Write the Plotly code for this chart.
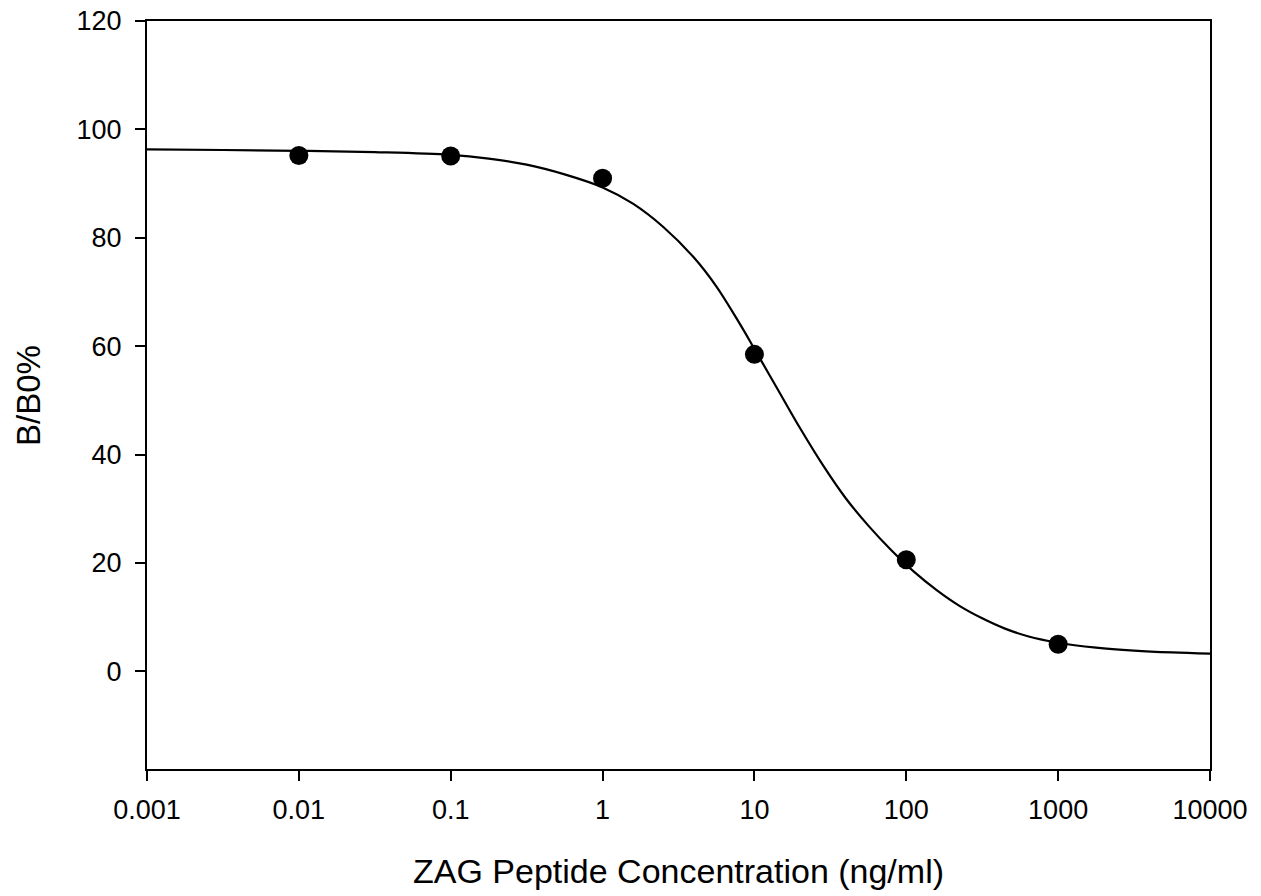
import plotly.graph_objects as go

# Measured data points
conc = [0.01, 0.1, 1, 10, 100, 1000]
bb0 = [95.2, 95.1, 91.0, 58.5, 20.6, 5.0]

# Fitted curve (log10 concentration, B/B0%)
curve_log = [-3, -2.5, -2, -1.5, -1, -0.75, -0.5, -0.25, 0.0, 0.2, 0.4, 0.6, 0.75, 0.9,
             1.0, 1.15, 1.3, 1.45, 1.6, 1.75, 1.9, 2.05, 2.2, 2.35, 2.5, 2.65, 2.8,
             3.0, 3.25, 3.5, 3.75, 4.0]
curve_y = [96.3, 96.2, 96.05, 95.8, 95.3, 94.6, 93.5, 91.7, 89.3, 86.3, 82.0, 76.4, 71.0, 64.3,
           59.5, 52.2, 44.9, 38.1, 32.0, 26.9, 22.4, 18.4, 15.0, 12.1, 9.8, 7.9, 6.5,
           5.3, 4.4, 3.85, 3.5, 3.27]
curve_x = [10 ** v for v in curve_log]

xtick_vals = [0.001, 0.01, 0.1, 1, 10, 100, 1000, 10000]
xtick_text = ["0.001", "0.01", "0.1", "1", "10", "100", "1000", "10000"]
ytick_vals = [0, 20, 40, 60, 80, 100, 120]

x_title = "ZAG Peptide Concentration (ng/ml)"
y_title = "B/B0%"

fig = go.Figure()
fig.add_trace(go.Scatter(x=curve_x, y=curve_y, mode="lines",
                         line=dict(color="black", width=2.2, shape="spline", smoothing=1),
                         hoverinfo="skip", showlegend=False))
fig.add_trace(go.Scatter(x=conc, y=bb0, mode="markers",
                         marker=dict(color="black", size=19),
                         showlegend=False))

font_family = "Arial, Liberation Sans, sans-serif"
fig.update_layout(
    width=1261, height=896,
    margin=dict(l=147, r=51, t=21, b=127, autoexpand=False),
    plot_bgcolor="white", paper_bgcolor="white",
    font=dict(family=font_family, color="black", size=27),
    xaxis=dict(type="log", range=[-3, 4], tickvals=xtick_vals, ticktext=xtick_text,
               showline=True, linecolor="black", linewidth=2, mirror=True,
               ticks="outside", ticklen=10, tickwidth=2, tickcolor="black",
               showgrid=False, zeroline=False, automargin=False,
               tickfont=dict(size=27), ticklabelstandoff=6, ticklabeloverflow="allow"),
    yaxis=dict(range=[-18, 120], tickvals=ytick_vals,
               showline=True, linecolor="black", linewidth=2, mirror=True,
               ticks="outside", ticklen=10, tickwidth=2, tickcolor="black",
               showgrid=False, zeroline=False, automargin=False,
               tickfont=dict(size=27), ticklabelstandoff=8, ticklabeloverflow="allow"),
    annotations=[
        dict(text=x_title, xref="paper", yref="paper", x=0.5, y=-0.1364,
             xanchor="center", yanchor="middle", showarrow=False,
             font=dict(size=34)),
        dict(text=y_title, xref="paper", yref="paper", x=-0.1120, y=0.5,
             xanchor="center", yanchor="middle", showarrow=False, textangle=-90,
             font=dict(size=33)),
    ],
)

fig.write_html("out.html", config={"displayModeBar": False},
               post_script="document.body.style.margin='0';")
